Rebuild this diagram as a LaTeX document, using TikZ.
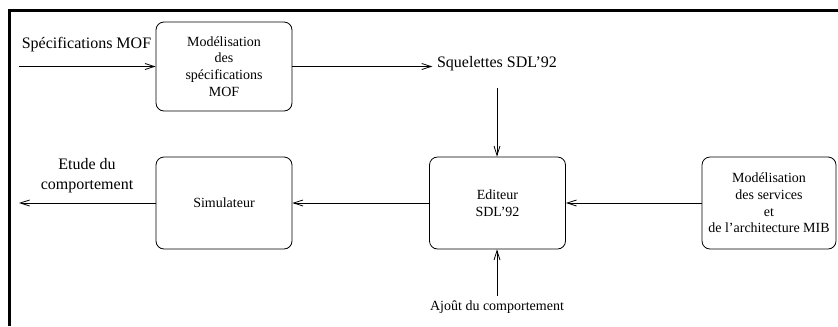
\documentclass[tikz,border=0pt]{standalone}
\usepackage{fontspec}
\setmainfont{Liberation Serif}
\usetikzlibrary{arrows.meta}

\begin{document}
\begin{tikzpicture}[x=0.75pt,y=-0.75pt,
  boite/.style={rectangle,rounded corners=6pt,draw,line width=0.6pt,align=center,
    font=\fontsize{10.5}{12.5}\selectfont,minimum width=102pt,minimum height=69pt},
  texte/.style={align=center,font=\fontsize{12}{15}\selectfont},
  legende/.style={font=\fontsize{10.5}{12.5}\selectfont},
  fleche/.style={-{Straight Barb[length=7pt,width=4.5pt]},line width=0.6pt}]
\useasboundingbox (0,0) rectangle (838,326);
% cadre
\draw[line width=2.25pt] (9.5,326) -- (9.5,10.5) -- (838,10.5);

% ligne du haut
\path (86.5,48) node[texte,anchor=base] (spec) {Spécifications MOF};
\coordinate (entree) at (19,66.5);
\path (224,66.5) node[boite,minimum height=66.75pt] (mof) {Modélisation\\des\\spécifications\\MOF};
\draw[fleche] (entree) -- (mof);
\path (497,67) node[texte,anchor=base] (squel) {Squelettes SDL’92};
\draw[fleche] (mof) -- (mof -| squel.west);

% ligne du bas
\path (497.5,203) node[boite] (edit) {Editeur\\SDL’92};
\draw[fleche,shorten <=10pt] (squel.south) -- (squel.south |- edit.north);
\path (224,203) node[boite] (sim) {Simulateur};
\draw[fleche] (edit) -- (sim);
\path (769,203) node[boite,minimum width=100.5pt] (mib) {Modélisation\\des services\\et\\de l’architecture MIB};
\draw[fleche] (mib) -- (edit);
\coordinate (sortie) at (19,203);
\draw[fleche] (sim) -- (sortie);
\path (87,176) node[texte] (etude) {Etude du\\comportement};

\path (497,310) node[legende,anchor=base] (ajout) {Ajoût du comportement};
\draw[fleche] (ajout.north) -- (ajout.north |- edit.south);
\end{tikzpicture}
\end{document}
